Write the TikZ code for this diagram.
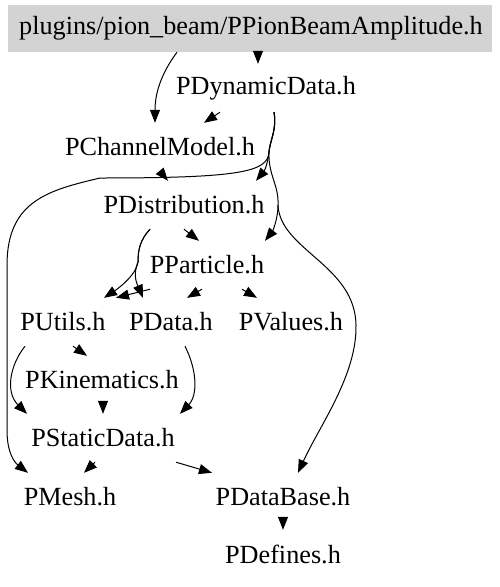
\documentclass[tikz,border=0pt]{standalone}
\usepackage{fontspec}
\setmainfont{Liberation Serif}
\usetikzlibrary{arrows.meta}
\definecolor{boxgray}{RGB}{211,211,211}
\begin{document}
\begin{tikzpicture}[x=1pt,y=-1pt,
  file/.style={inner sep=0pt,minimum height=48pt,font=\fontsize{26.2}{30}\selectfont},
  edge/.style={draw=black,line width=1pt,-{Triangle[length=13pt,width=10pt]}}]
\useasboundingbox (0,0) rectangle (500,587);
\fill[boxgray] (8,5) rectangle (492,52);
\node[file,minimum height=47pt] (top) at (251,28.5) {plugins/pion\_beam/PPionBeamAmplitude.h};
\node[file] (dyn) at (266,88) {PDynamicData.h};
\node[file] (chan) at (160,147) {PChannelModel.h};
\node[file] (dist) at (184,205) {PDistribution.h};
\node[file] (part) at (207,265) {PParticle.h};
\node[file] (utils) at (63,322) {PUtils.h};
\node[file] (data) at (171,322) {PData.h};
\node[file] (val) at (291,322) {PValues.h};
\node[file] (kin) at (102,380) {PKinematics.h};
\node[file] (stat) at (103,438) {PStaticData.h};
\node[file] (mesh) at (70,497) {PMesh.h};
\node[file] (dbase) at (283,497) {PDataBase.h};
\node[file] (defs) at (283,554) {PDefines.h};
% edges
\draw[edge] ([xshift=-74pt]top.south) .. controls (160,75) and (155,95) .. ([xshift=-5pt]chan.north);
\draw[edge] ([xshift=7pt]top.south) -- ([xshift=-8pt]dyn.north);
\draw[edge] ([xshift=-46pt]dyn.south) -- ([xshift=44pt]chan.north);
\draw[edge] ([xshift=8pt]dyn.south) .. controls (277,130) and (270,140) .. (269,152) .. controls (268,162) and (265,170) .. ([xshift=72pt]dist.north);
\draw[edge] ([xshift=8pt]dyn.south) .. controls (277,130) and (270,140) .. (269,152) .. controls (268,172) and (240,178) .. (100,178) .. controls (50,190) and (7,200) .. (7,265) -- (7,430) .. controls (7,452) and (14,462) .. ([xshift=-42pt]mesh.north);
\draw[edge] ([xshift=8pt]dyn.south) .. controls (277,130) and (270,140) .. (269,152) .. controls (268,175) and (279,185) .. (278,205) .. controls (278,220) and (272,232) .. ([xshift=58pt]part.north);
\draw[edge] (278,205) .. controls (280,250) and (355,265) .. (356,325) .. controls (357,375) and (320,425) .. ([xshift=15pt]dbase.north);
\draw[edge] (chan.south) -- ([xshift=8pt]chan.south |- dist.north);
\draw[edge] (dist.south) -- ([xshift=-8pt]part.north);
\draw[edge] ([xshift=-34pt]dist.south) .. controls (140,240) and (138,250) .. (138,262) .. controls (136,276) and (116,290) .. ([xshift=41pt]utils.north);
\draw[edge] ([xshift=-34pt]dist.south) .. controls (140,240) and (138,250) .. (138,262) .. controls (132,276) and (138,286) .. ([xshift=-28pt]data.north);
\draw[edge] ([xshift=-57pt]part.south) -- ([xshift=53pt]utils.north);
\draw[edge] ([xshift=-5pt]part.south) -- ([xshift=16pt]data.north);
\draw[edge] ([xshift=35pt]part.south) -- ([xshift=-34pt]val.north);
\draw[edge] ([xshift=10pt]utils.south) -- ([xshift=-15pt]kin.north);
\draw[edge] ([xshift=-38pt]utils.south) .. controls (10,365) and (5,392) .. ([xshift=-76pt]stat.north);
\draw[edge] ([xshift=1pt]kin.south) -- (stat.north);
\draw[edge] ([xshift=14pt]data.south) .. controls (197,370) and (198,395) .. ([xshift=77pt]stat.north);
\draw[edge] ([xshift=-8pt]stat.south) -- ([xshift=14pt]mesh.north);
\draw[edge] ([xshift=73pt]stat.south) -- ([xshift=-71pt]dbase.north);
\draw[edge] (dbase.south) -- (defs.north);
\end{tikzpicture}
\end{document}
